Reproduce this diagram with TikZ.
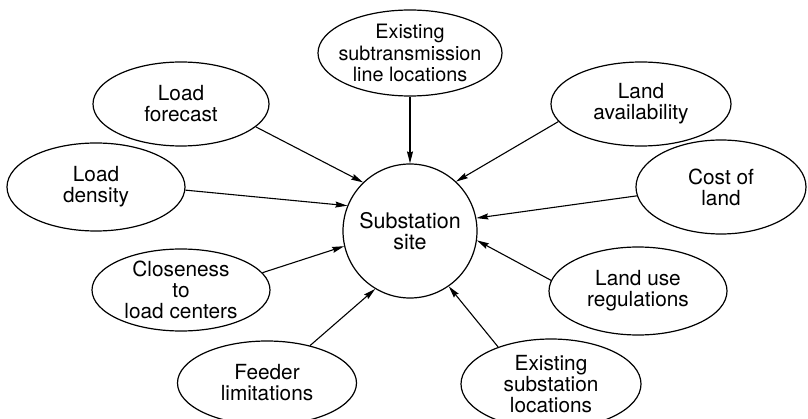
\documentclass[tikz,border=0pt]{standalone}
\usepackage{fontspec}
\setmainfont{TeX Gyre Heros}
\usetikzlibrary{shapes.geometric,arrows.meta}
\begin{document}
\begin{tikzpicture}[x=1pt,y=1pt,
  ell/.style={draw, ellipse, line width=1.2pt, inner sep=0pt},
  lbl/.style={align=center, font=\fontsize{20.8}{21}\selectfont, inner sep=0pt},
  arr/.style={line width=1.1pt, -{Stealth[length=12pt,width=6pt,inset=1.5pt]}},
]
\useasboundingbox (0,0) rectangle (808,418);
\begin{scope}
\clip (0,0) rectangle (808,418);
\node[draw, circle, line width=1.2pt, minimum size=134pt, inner sep=0pt] (sub) at (410,187) {};
\node[align=center, font=\fontsize{21.5}{21}\selectfont, inner sep=0pt] (subt) at (sub) {Substation\\site};

\node[ell, minimum width=176pt, minimum height=84pt] (lf) at (181,314) {};
\node[lbl] (lft) at (lf) {Load\\forecast};
\node[ell, minimum width=178pt, minimum height=88pt] (ld) at (96,231) {};
\node[lbl] (ldt) at (ld) {Load\\density};
\node[ell, minimum width=184pt, minimum height=86pt] (est) at (410,365) {};
\node[lbl, font=\fontsize{19.8}{21.5}\selectfont] (estt) at (est) {Existing\\subtransmission\\line locations};
\node[ell, minimum width=180pt, minimum height=84pt] (la) at (641,314) {};
\node[lbl] (lat) at (la) {Land\\availability};
\node[ell, minimum width=170pt, minimum height=94pt] (cl) at (721,231) {};
\node[lbl] (clt) at (cl) {Cost of\\land};
\node[ell, minimum width=178pt, minimum height=82pt] (clo) at (181,128) {};
\node[lbl] (clot) at (clo) {Closeness\\to\\load centers};
\node[ell, minimum width=179pt, minimum height=84pt] (fl) at (267,35) {};
\node[lbl] (flt) at (fl) {Feeder\\limitations};
\node[ell, minimum width=178pt, minimum height=88pt] (lu) at (638,127) {};
\node[lbl] (lut) at (lu) {Land use\\regulations};
\node[ell, minimum width=180pt, minimum height=90pt] (es) at (551,34) {};
\node[lbl] (est2) at (es) {Existing\\substation\\locations};

\draw[arr] (lf.-17) -- (sub.134);
\draw[arr] (ld.-2) -- (sub.158);
\draw[arr] (est.south) -- (sub.north);
\draw[arr] (la.192) -- (sub.47);
\draw[arr] (cl.186) -- (sub.11);
\draw[arr] (lu.173) -- (sub.-8);
\draw[arr] (es.145) -- (sub.-55);
\draw[arr] (fl.41) -- (sub.-121);
\draw[arr] (clo.12) -- (sub.193);
\end{scope}
\end{tikzpicture}
\end{document}
